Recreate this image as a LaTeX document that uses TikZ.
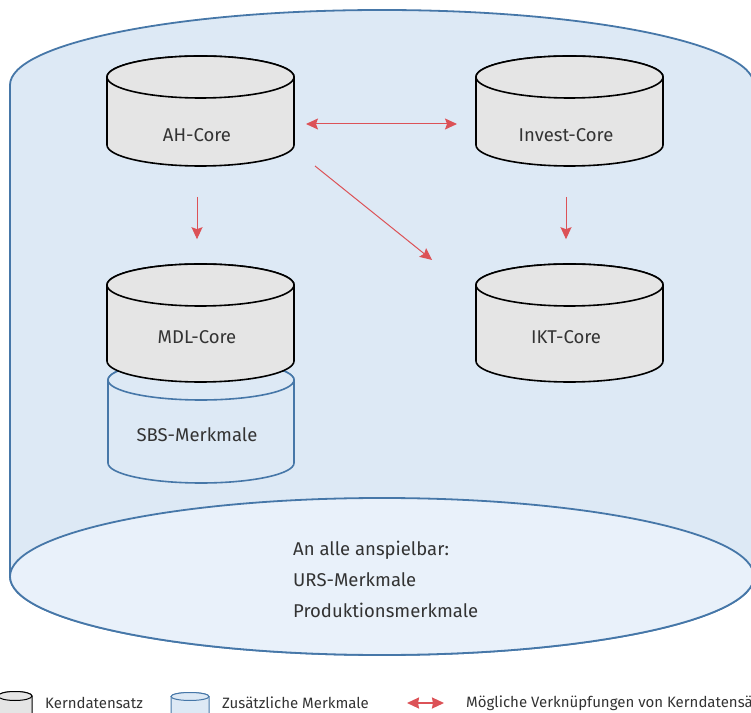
\documentclass[tikz,border=0pt]{standalone}
\usepackage{fontspec}
\setmainfont{Fira Sans}
\usepackage{tikz}
\usetikzlibrary{calc,positioning,arrows.meta}

\definecolor{poolblue}{HTML}{DDE9F5}
\definecolor{poolfloor}{HTML}{E9F1FA}
\definecolor{steel}{HTML}{4677A8}
\definecolor{coregray}{HTML}{E5E5E5}
\definecolor{linkred}{HTML}{DC5257}
\definecolor{txt}{HTML}{333333}

% drum: style, centre x, top y, bottom y, x radius, y radius
\newcommand{\drum}[6]{%
  \filldraw[#1] (#2-#5,#3) -- (#2-#5,#4)
    arc[start angle=180,end angle=360,x radius=#5,y radius=#6]
    -- (#2+#5,#3) arc[start angle=0,end angle=180,x radius=#5,y radius=#6] -- cycle;
  \draw[#1] (#2,#3) ellipse[x radius=#5,y radius=#6];
}

\begin{document}
\begin{tikzpicture}[x=1pt,y=1pt,
    core/.style={fill=coregray,draw=black,line width=1.6pt},
    extra/.style={fill=poolblue,draw=steel,line width=1.6pt},
    lbl/.style={text=txt,font=\fontsize{18.5}{22}\selectfont,inner sep=0pt},
    legend/.style={text=txt,font=\fontsize{15}{18}\selectfont,inner sep=0pt,anchor=west},
    link/.style={draw=linkred,line width=1pt,-{Stealth[length=12pt,width=11pt,inset=2pt]}}]
  \useasboundingbox (0,0) rectangle (751,712);
  \clip (0,0) rectangle (751,712);

  % outer pool
  \filldraw[fill=poolblue,draw=steel,line width=1.8pt] (10,627)
    arc[start angle=180,end angle=0,x radius=372,y radius=75] -- (754,135.5)
    arc[start angle=0,end angle=-180,x radius=372,y radius=78.5] -- cycle;
  \filldraw[fill=poolfloor,draw=steel,line width=1.8pt] (382,135.5) ellipse[x radius=372,y radius=78.5];

  % data sets
  \drum{extra}{201}{332}{249}{93}{20}
  \drum{core}{200.5}{635}{567}{93.5}{21}
  \drum{core}{569.5}{635}{567}{93.5}{21}
  \drum{core}{200.5}{427}{351}{93.5}{21}
  \drum{core}{569.5}{427}{351}{93.5}{21}

  \node[lbl] at (197,577) (ah) {AH-Core};
  \node[lbl] at (566,577) (invest) {Invest-Core};
  \node[lbl] at (197,375) (mdl) {MDL-Core};
  \node[lbl] at (566,375) (ikt) {IKT-Core};
  \node[lbl] at (197,277) (sbs) {SBS-Merkmale};
  \node[lbl,align=left,anchor=west,font=\fontsize{18.5}{31}\selectfont] at (293,133) (urs)
    {An alle anspielbar:\\URS-Merkmale\\Produktionsmerkmale};

  % links
  \draw[link,shorten <=55pt,shorten >=91pt] (ah) -- (mdl);
  \draw[link,shorten <=55pt,shorten >=91pt] (invest) -- (ikt);
  \draw[link,{Stealth[length=12pt,width=11pt,inset=2pt]}-{Stealth[length=12pt,width=11pt,inset=2pt]},
    shorten <=109pt,shorten >=109pt] ([yshift=11pt]ah.center) -- ([yshift=11pt]invest.center);
  \draw[link] ($(ah)+(118,-31)$) coordinate (d1) -- ($(ikt)+(-134,77)$) coordinate (d2);

  % legend
  \drum{core,line width=1pt}{15}{16}{-20}{17}{4.5}
  \drum{extra,line width=1pt}{190}{15.5}{-20}{19}{4}
  \node[legend] at (45,9) (lcore) {Kerndatensatz};
  \node[legend] at (222,9) (lextra) {Zusätzliche Merkmale};
  \coordinate (la) at (407,9);
  \coordinate (lb) at (444,9);
  \draw[draw=linkred,line width=2pt,{Stealth[length=12pt,width=11pt,inset=1pt]}-{Stealth[length=12pt,width=11pt,inset=1pt]}] (la) -- (lb);
  \node[legend] at (466,9) (llink) {Mögliche Verknüpfungen von Kerndatensätzen};
\end{tikzpicture}
\end{document}
